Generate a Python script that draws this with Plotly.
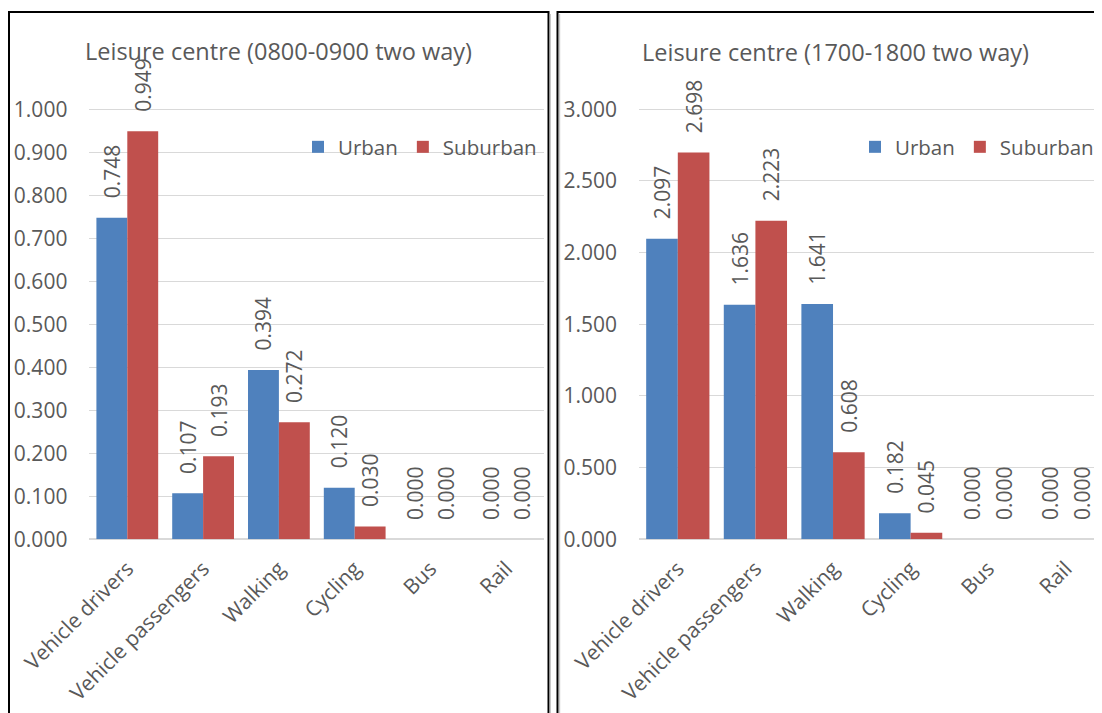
import plotly.graph_objects as go

modes = ["Vehicle drivers", "Vehicle passengers", "Walking", "Cycling", "Bus", "Rail"]

# 0800-0900 two way
am_urban = [0.748, 0.107, 0.394, 0.120, 0.000, 0.000]
am_suburban = [0.949, 0.193, 0.272, 0.030, 0.000, 0.000]
am_ticks = [0.0, 0.1, 0.2, 0.3, 0.4, 0.5, 0.6, 0.7, 0.8, 0.9, 1.0]

# 1700-1800 two way
pm_urban = [2.097, 1.636, 1.641, 0.182, 0.000, 0.000]
pm_suburban = [2.698, 2.223, 0.608, 0.045, 0.000, 0.000]
pm_ticks = [0.0, 0.5, 1.0, 1.5, 2.0, 2.5, 3.0]

BLUE = "#4F81BD"
RED = "#C0504D"
GREY = "#595959"
FONT = "Open Sans"

# page body has an 8px margin, so the figure is a bit smaller than the window
W, H = 1094, 705

fig = go.Figure()


def add_bars(vals, name, color, xa, ya, legend):
    fig.add_trace(go.Bar(
        x=modes,
        y=vals,
        name=name,
        marker_color=color,
        xaxis=xa,
        yaxis=ya,
        legend=legend,
        texttemplate="\u00a0\u00a0\u00a0%{y:.3f}",
        textposition="outside",
        textangle=-90,
        constraintext="none",
        cliponaxis=False,
        textfont=dict(family=FONT, size=21, color=GREY),
    ))


add_bars(am_urban, "Urban", BLUE, "x", "y", "legend")
add_bars(am_suburban, "Suburban", RED, "x", "y", "legend")
add_bars(pm_urban, "Urban", BLUE, "x2", "y2", "legend2")
add_bars(pm_suburban, "Suburban", RED, "x2", "y2", "legend2")

tick_font = dict(family=FONT, size=21, color=GREY)
xcommon = dict(tickangle=-45, tickfont=tick_font, showgrid=False, showline=False,
               zeroline=False, ticks="", ticklabelstandoff=12, ticklabelshift=0,
               automargin=False)
ycommon = dict(tickformat=".3f", tickfont=tick_font, gridcolor="#D9D9D9", gridwidth=1,
               zeroline=True, zerolinecolor="#D9D9D9", zerolinewidth=1.5,
               showline=False, ticks="", ticklabelstandoff=21, automargin=False)

# plot area runs a bit above the top gridline so the tallest labels are not squeezed
y_zero = 531.3
y_full = 101.3
y_top = 45
bottom = (H - y_zero) / H
top = (H - y_top) / H
extra = (y_full - y_top) / (y_zero - y_full)

legend_common = dict(orientation="h", font=dict(family=FONT, size=20.5, color=GREY),
                     bgcolor="rgba(0,0,0,0)", itemwidth=30, yanchor="middle",
                     traceorder="normal")

title_font = dict(family=FONT, size=23.5, color=GREY)

fig.update_layout(
    template="none",
    width=W,
    height=H,
    margin=dict(l=0, r=0, t=0, b=0, autoexpand=False),
    paper_bgcolor="white",
    plot_bgcolor="white",
    barmode="group",
    bargap=0.185,
    bargroupgap=0,
    font=dict(family=FONT, color=GREY),
    xaxis=dict(domain=[81.4 / W, 536.2 / W], anchor="y", **xcommon),
    yaxis=dict(domain=[bottom, top], anchor="x", range=[0, 1.0 * (1 + extra)],
               tickvals=am_ticks, **ycommon),
    xaxis2=dict(domain=[631 / W, 1.0], anchor="y2", range=[-0.5, 5.466], **xcommon),
    yaxis2=dict(domain=[bottom, top], anchor="x2", range=[0, 3.0 * (1 + extra)],
                tickvals=pm_ticks, **ycommon),
    legend=dict(x=290 / W, y=(H - 139) / H, xanchor="left", **legend_common),
    legend2=dict(x=1091 / W, y=(H - 139) / H, xanchor="right", **legend_common),
    annotations=[
        dict(text="Leisure centre (0800-0900 two way)", x=270.6 / W, y=(H - 43) / H,
             xref="paper", yref="paper", showarrow=False, xanchor="center",
             yanchor="middle", font=title_font),
        dict(text="Leisure centre (1700-1800 two way)", x=827 / W, y=(H - 44) / H,
             xref="paper", yref="paper", showarrow=False, xanchor="center",
             yanchor="middle", font=title_font),
    ],
    shapes=[
        dict(type="rect", xref="paper", yref="paper", x0=1 / W, x1=540.5 / W,
             y0=-0.1, y1=(H - 4) / H, line=dict(color="black", width=2)),
        dict(type="rect", xref="paper", yref="paper", x0=549.5 / W, x1=1.1,
             y0=-0.1, y1=(H - 4) / H, line=dict(color="black", width=2)),
        # faint shadow to the right of each frame edge
        dict(type="line", xref="paper", yref="paper", x0=542.4 / W, x1=542.4 / W,
             y0=0, y1=(H - 6) / H, line=dict(color="#C8C8C8", width=1.2)),
        dict(type="line", xref="paper", yref="paper", x0=551.6 / W, x1=551.6 / W,
             y0=0, y1=(H - 6) / H, line=dict(color="#C8C8C8", width=1.2)),
    ],
)

fig.write_html("out.html")
